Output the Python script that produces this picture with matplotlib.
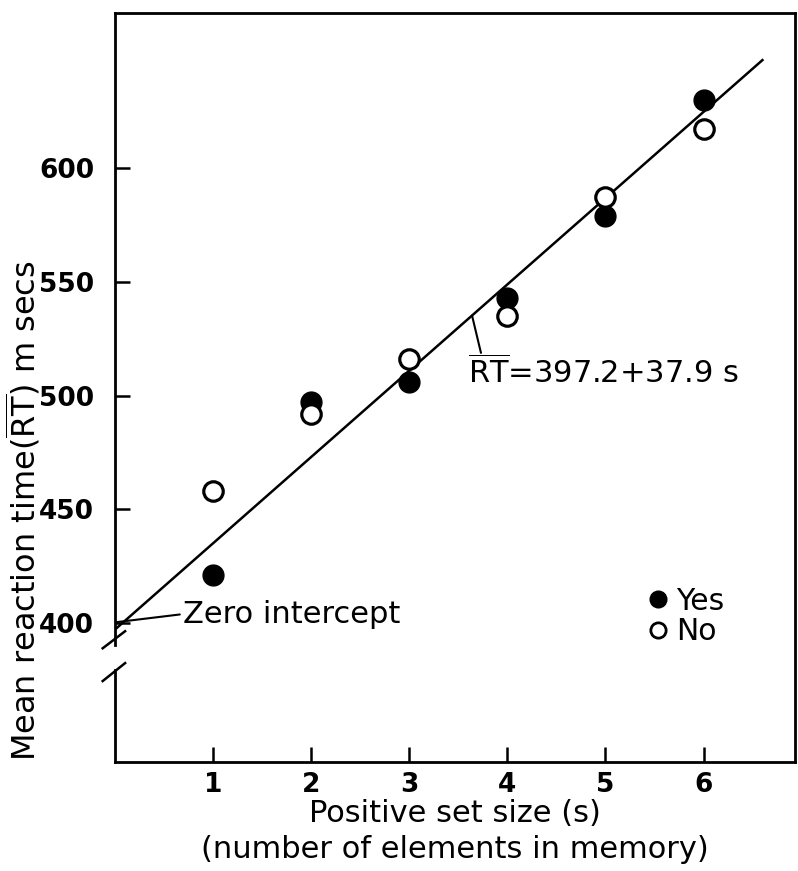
import numpy as np
import matplotlib.pyplot as plt
import matplotlib.transforms as mtransforms
from matplotlib.lines import Line2D

# Set size s and mean RT (msec) for positive (Yes) and negative (No) responses
set_size = [1, 2, 3, 4, 5, 6]
rt_yes = [421, 497, 506, 543, 579, 630]
rt_no = [458, 492, 516, 535, 587, 617]

# fitted line RT = a + b*s
intercept = 397.2
slope = 37.9
s_end = 6.6

plt.rcParams['font.family'] = ['DejaVu Sans']
plt.rcParams['mathtext.fontset'] = 'dejavusans'

fig = plt.figure(figsize=(7.98, 8.71), dpi=100)
ax = fig.add_axes([0.144, 0.125, 0.852, 0.86])

ax.set_xlim(0, 6.93)
ax.set_ylim(339, 668)

# regression line
s_line = np.array([0, s_end])
ax.plot(s_line, intercept + slope * s_line, color='black', lw=1.8, zorder=2)

ax.plot(set_size, rt_yes, 'o', color='black', ms=15, zorder=3)
ax.plot(set_size, rt_no, 'o', mfc='white', mec='black', mew=2.3, ms=14, zorder=3)

# frame: left spine is drawn by hand so it can show a break below 400
for side in ['top', 'right', 'bottom']:
    ax.spines[side].set_linewidth(2.0)
ax.spines['left'].set_visible(False)
trans = mtransforms.blended_transform_factory(ax.transAxes, ax.transData)
ax.add_line(Line2D([0, 0], [390.3, 668], transform=trans, color='black', lw=2.0, clip_on=False))
ax.add_line(Line2D([0, 0], [339, 379.3], transform=trans, color='black', lw=2.0, clip_on=False))
ax.add_line(Line2D([-0.018, 0.015], [389.0, 396.5], transform=trans, color='black', lw=1.8, clip_on=False))
ax.add_line(Line2D([-0.018, 0.015], [374.6, 382.5], transform=trans, color='black', lw=1.8, clip_on=False))

ax.set_xticks(set_size)
ax.set_yticks([400, 450, 500, 550, 600])
ax.tick_params(direction='in', length=11, width=1.8, labelsize=19, pad=7)
ax.tick_params(axis='y', pad=15)
for lab in ax.get_xticklabels() + ax.get_yticklabels():
    lab.set_fontweight('bold')

ax.set_ylabel(r'Mean reaction time$(\overline{\mathrm{RT}})$ m secs', fontsize=23)
ax.yaxis.set_label_coords(-0.107, 0.336)
ax.set_xlabel('Positive set size (s)\n(number of elements in memory)', fontsize=22,
              linespacing=1.3, labelpad=1)

# equation label with leader line to the fitted line
ax.annotate(r'$\overline{\mathrm{RT}}$=397.2+37.9 s', xy=(3.64, intercept + slope * 3.64),
            xytext=(3.6, 510), fontsize=22, ha='left', va='center',
            arrowprops=dict(arrowstyle='-', color='black', lw=1.5, shrinkA=0, shrinkB=0,
                            relpos=(0.05, 1.0)))

# zero intercept label
ax.annotate('Zero intercept', xy=(0.02, 400.5), xytext=(0.69, 404), fontsize=22,
            ha='left', va='center',
            arrowprops=dict(arrowstyle='-', color='black', lw=1.5, shrinkA=0, shrinkB=0,
                            relpos=(0.0, 0.5)))

ax.legend(handles=[Line2D([], [], marker='o', ls='none', color='black', ms=12, label='Yes'),
                   Line2D([], [], marker='o', ls='none', mfc='white', mec='black', mew=2.0,
                          ms=11, label='No')],
          loc='upper left', bbox_to_anchor=(0.762, 0.25), frameon=False, fontsize=21.5,
          handletextpad=0.15, labelspacing=0.05, handlelength=0.9, borderaxespad=0)

fig.savefig('out.png', dpi=100, facecolor='white')
